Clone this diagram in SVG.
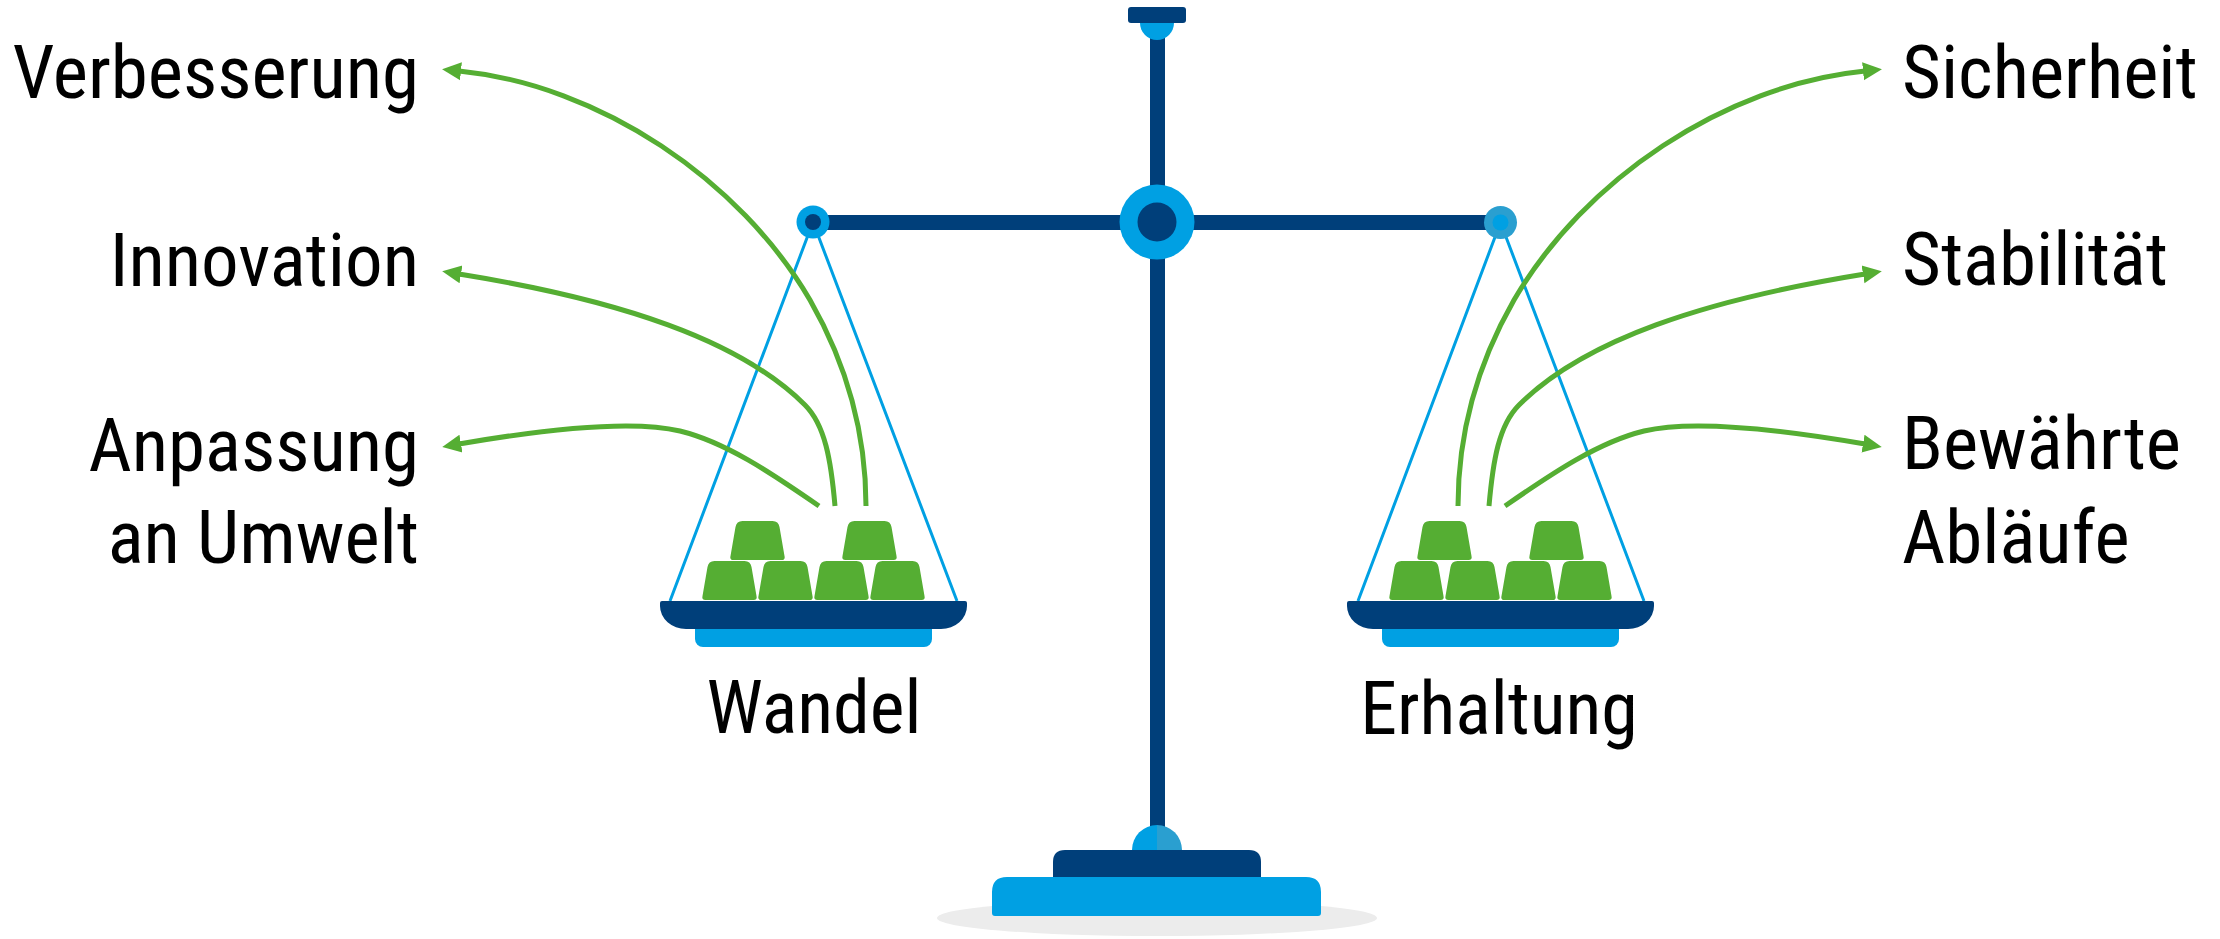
<svg xmlns="http://www.w3.org/2000/svg" xmlns:xlink="http://www.w3.org/1999/xlink" width="2220" height="939" viewBox="0 0 2220 939">
  <style>
    .dark { fill: #003f7a; }
    .light { fill: #00a0e3; }
    .mid { fill: #2a9fd0; }
    .bar { fill: #55ae33; }
    .string { stroke: #00a0e3; stroke-width: 3; fill: none; }
    .link { stroke: #55ae33; stroke-width: 5; fill: none; marker-end: url(#head); }
    .label { font-family: 'Roboto Condensed', 'Liberation Sans Narrow', Roboto, sans-serif; font-size: 75px; fill: #000; }
    .title { font-family: 'Roboto Condensed', 'Liberation Sans Narrow', Roboto, sans-serif; font-size: 74px; fill: #000; text-anchor: middle; }
  </style>
  <defs>
    <marker id="head" markerUnits="userSpaceOnUse" viewBox="0 -10 20 20" markerWidth="20" markerHeight="20" refX="2" refY="0" orient="auto">
      <path d="M0,-9 L19,0 L0,9 Z" fill="#55ae33"/>
    </marker>
    <!-- one weight bar, bottom centre at the origin -->
    <path id="ingot" d="M-24,0 Q-28,0 -27,-4 L-22,-33 Q-21,-39 -15,-39 H15 Q21,-39 22,-33 L27,-4 Q28,0 24,0 Z"/>
    <!-- pan with its load, centre of the pan top at the origin -->
    <g id="pan">
      <use xlink:href="#ingot" class="bar" x="-84" y="-1"/>
      <use xlink:href="#ingot" class="bar" x="-28" y="-1"/>
      <use xlink:href="#ingot" class="bar" x="28" y="-1"/>
      <use xlink:href="#ingot" class="bar" x="84" y="-1"/>
      <use xlink:href="#ingot" class="bar" x="-56" y="-41"/>
      <use xlink:href="#ingot" class="bar" x="56" y="-41"/>
      <rect class="light" x="-118.5" y="20" width="237" height="26" rx="8"/>
      <path class="dark" d="M-151.5,0 H151.5 Q153.5,0 153.5,2 V5 A26,23 0 0 1 127.5,28 H-127.5 A26,23 0 0 1 -153.5,5 V2 Q-153.5,0 -151.5,0 Z"/>
    </g>
  </defs>

  <!-- floor shadow -->
  <ellipse cx="1157" cy="918" rx="220" ry="18" fill="#ececec"/>

  <!-- stand: mast, top cap and foot -->
  <g id="stand">
    <rect class="dark" x="1150" y="20" width="15" height="832"/>
    <path class="light" d="M1140,23 A17,17 0 0 0 1174,23 Z"/>
    <rect class="dark" x="1128" y="7" width="58" height="16" rx="3"/>
    <path class="light" d="M1132,850 A25,25 0 0 1 1157,825 V850 Z"/>
    <path class="mid" d="M1157,825 A25,25 0 0 1 1182,850 H1157 Z"/>
    <path class="dark" d="M1053,880 V862 Q1053,850 1065,850 H1249 Q1261,850 1261,862 V880 Z"/>
    <path class="light" d="M992,916 V892 Q992,877 1007,877 H1306 Q1321,877 1321,892 V913 Q1321,916 1318,916 H995 Q992,916 992,913 Z"/>
  </g>

  <!-- strings of both pans -->
  <g id="strings">
    <path class="string" d="M670,601 L813,222 L957,601"/>
    <path class="string" d="M1358,601 L1500.5,222.5 L1644,601"/>
  </g>

  <!-- connectors from the loads to the side labels -->
  <g id="connectors">
    <path id="c-verbesserung" class="link" d="M866,506 C866,440 850,370 810,300 C740,180 600,85 459,71"/>
    <path id="c-innovation" class="link" d="M835,506 C831,460 825,425 805,405 C740,340 620,300 459,274"/>
    <path id="c-anpassung" class="link" d="M819,506 C770,472 725,442 680,431 C630,419 540,430 459,444"/>
    <g transform="matrix(-1,0,0,1,2324,0)">
      <path id="c-sicherheit" class="link" d="M866,506 C866,440 850,370 810,300 C740,180 600,85 459,71"/>
      <path id="c-stabilitaet" class="link" d="M835,506 C831,460 825,425 805,405 C740,340 620,300 459,274"/>
      <path id="c-ablaeufe" class="link" d="M819,506 C770,472 725,442 680,431 C630,419 540,430 459,444"/>
    </g>
  </g>

  <!-- beam and pivots -->
  <g id="beam">
    <rect class="dark" x="813" y="215" width="688" height="15"/>
    <circle class="light" cx="813" cy="222" r="16.5"/>
    <circle class="dark" cx="813" cy="222" r="8"/>
    <circle class="mid" cx="1500.5" cy="222.5" r="16.5"/>
    <circle class="light" cx="1500.5" cy="222.5" r="8"/>
    <circle class="light" cx="1157" cy="222" r="37.5"/>
    <circle class="dark" cx="1157" cy="222" r="19.5"/>
  </g>

  <!-- left pan -->
  <g id="pan-wandel">
    <use xlink:href="#pan" x="813.5" y="601"/>
    <text class="title" x="814" y="733">Wandel</text>
  </g>

  <!-- right pan -->
  <g id="pan-erhaltung">
    <use xlink:href="#pan" x="1500.5" y="601"/>
    <text class="title" x="1499" y="734">Erhaltung</text>
  </g>

  <!-- side labels -->
  <g id="label-verbesserung"><text class="label" x="419" y="98" text-anchor="end">Verbesserung</text></g>
  <g id="label-innovation"><text class="label" x="419" y="286" text-anchor="end">Innovation</text></g>
  <g id="label-anpassung"><text class="label" x="419" y="471" text-anchor="end">Anpassung<tspan x="419" y="563">an Umwelt</tspan></text></g>
  <g id="label-sicherheit"><text class="label" x="1902" y="98">Sicherheit</text></g>
  <g id="label-stabilitaet"><text class="label" x="1902" y="285">Stabilität</text></g>
  <g id="label-ablaeufe"><text class="label" x="1902" y="469">Bewährte<tspan x="1902" y="563">Abläufe</tspan></text></g>
</svg>
